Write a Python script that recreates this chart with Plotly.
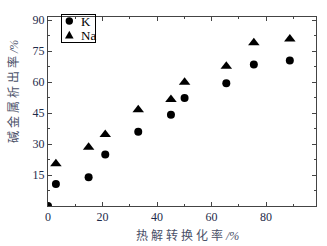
import plotly.graph_objects as go

# Data
conv = [0, 2.9, 14.9, 21.0, 33.1, 45.1, 50.1, 65.4, 75.5, 88.7]
k_rel = [0, 10.7, 13.9, 24.9, 36.0, 44.2, 52.3, 59.4, 68.5, 70.4]
na_conv = [2.9, 14.9, 21.0, 33.1, 45.1, 50.1, 65.4, 75.5, 88.7]
na_rel = [20.4, 28.5, 34.6, 46.6, 51.5, 59.9, 67.6, 79.0, 80.9]

x_ticks = [0, 20, 40, 60, 80]
y_ticks = [15, 30, 45, 60, 75, 90]

W, H = 327, 246
ML, MR, MT, MB = 48, 11, 17, 40
PW, PH = W - ML - MR, H - MT - MB

def px(x):
    return (x - ML) / PW

def py(y):
    return (H - MB - y) / PH

tick_col = "#1e2b4a"
title_col = "#4a5068"
line_col = "#444444"
serif = "Liberation Serif, Times New Roman, serif"
cjk = "Liberation Serif, Noto Sans CJK SC, serif"

fig = go.Figure()
fig.add_trace(go.Scatter(x=conv, y=k_rel, mode="markers", name="K",
                         marker=dict(symbol="circle", size=8, color="black"),
                         showlegend=False))
fig.add_trace(go.Scatter(x=na_conv, y=na_rel, mode="markers", name="Na",
                         marker=dict(symbol="triangle-up", size=10, color="black"),
                         showlegend=False))

axis_common = dict(showline=True, linecolor=line_col, linewidth=1, mirror="ticks",
                   ticks="inside", ticklen=4, tickcolor=line_col, showgrid=False,
                   zeroline=False, tickfont=dict(family=serif, size=12, color=tick_col))

fig.update_xaxes(range=[0, 98.3], tickvals=x_ticks,
                 minor=dict(dtick=10, tick0=0, ticks="inside", ticklen=2, tickcolor=line_col),
                 **axis_common)
fig.update_yaxes(range=[0, 91.5], tickvals=y_ticks,
                 minor=dict(dtick=7.5, tick0=0, ticks="inside", ticklen=2, tickcolor=line_col),
                 **axis_common)

fig.add_shape(type="circle", xref="paper", yref="paper", x0=px(65.6), x1=px(73), y0=py(24.7), y1=py(17.3),
              line=dict(color="black", width=0), fillcolor="black", layer="above")
fig.add_shape(type="path", xref="paper", yref="paper",
              path=f"M {px(65.0)} {py(38.5)} L {px(73.6)} {py(38.5)} L {px(69.3)} {py(30.8)} Z",
              line=dict(color="black", width=0), fillcolor="black", layer="above")

annotations = [
    # legend frame
    dict(text="K", xref="paper", yref="paper", x=px(78.5), y=py(28.5), xanchor="center", yanchor="middle",
         showarrow=False, width=33, height=27, borderpad=0, bordercolor="black", borderwidth=1,
         font=dict(family=serif, size=10, color="rgba(0,0,0,0)")),
    dict(text="K", xref="paper", yref="paper", x=px(78.5), y=py(21), xanchor="left", yanchor="middle",
         showarrow=False, font=dict(family=serif, size=13, color="black")),
    dict(text="Na", xref="paper", yref="paper", x=px(78.5), y=py(35), xanchor="left", yanchor="middle",
         showarrow=False, font=dict(family=serif, size=13, color="black")),
    dict(text="热 解 转 换 化 率 <i>/%</i>", xref="paper", yref="paper", x=px(187), y=py(236),
         xanchor="center", yanchor="middle", showarrow=False,
         font=dict(family=cjk, size=12, color=title_col)),
    dict(text="碱 金 属 析 出 率 <i>/%</i>", xref="paper", yref="paper", x=px(13), y=py(92),
         xanchor="center", yanchor="middle", showarrow=False, textangle=-90,
         font=dict(family=cjk, size=12, color=title_col)),
]

fig.update_layout(width=W, height=H, margin=dict(l=ML, r=MR, t=MT, b=MB),
                  paper_bgcolor="white", plot_bgcolor="white",
                  annotations=annotations)

fig.write_html("out.html", config={"displayModeBar": False},
               post_script="document.body.style.margin='0';")
